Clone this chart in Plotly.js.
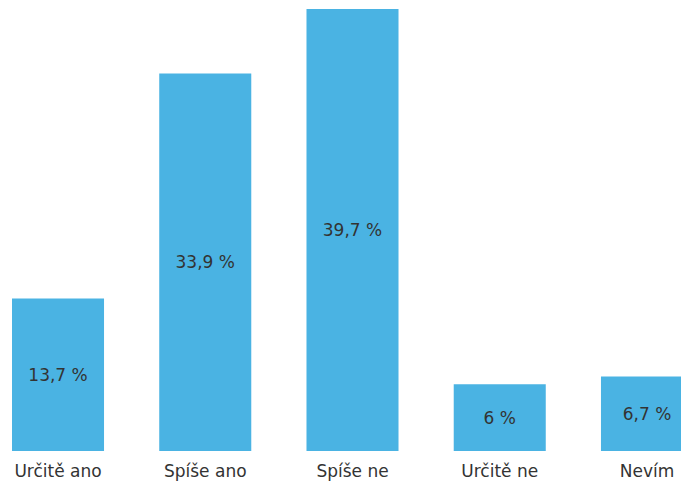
<!DOCTYPE html>
<html>
<head>
<meta charset="utf-8">
<script src="https://cdn.plot.ly/plotly-3.0.1.min.js"></script>
<style>
  html, body { margin: 0; padding: 0; background: #fff; }
  #chart { width: 683px; height: 482px; }
</style>
</head>
<body>
<div id="chart"></div>
<script>
// Survey answers and their shares (percent)
const categories = ["Určitě ano", "Spíše ano", "Spíše ne", "Určitě ne", "Nevím"];
const shares = [13.7, 33.9, 39.7, 6, 6.7];

const labels = shares.map(v => String(v).replace(".", ",") + " %");

const trace = {
  type: "bar",
  x: categories,
  y: shares,
  text: labels,
  textposition: "inside",
  insidetextanchor: "middle",
  textangle: 0,
  texttemplate: "%{text}",
  hoverinfo: "skip",
  marker: { color: "#4ab3e3", line: { width: 0 } },
  insidetextfont: { family: "DejaVu Sans", size: 17, color: "#333333" }
};

const layout = {
  width: 683,
  height: 482,
  margin: { l: 0, r: 2, t: 9, b: 31 },
  paper_bgcolor: "#ffffff",
  plot_bgcolor: "#ffffff",
  showlegend: false,
  bargap: 0.375,
  xaxis: {
    type: "category",
    range: [-0.394, 4.231],
    showgrid: false,
    zeroline: false,
    showline: false,
    ticks: "",
    ticklabelstandoff: 8,
    tickfont: { family: "DejaVu Sans", size: 17, color: "#333333" },
    fixedrange: true
  },
  yaxis: {
    range: [0, 39.7],
    visible: false,
    showgrid: false,
    zeroline: false,
    fixedrange: true
  }
};

Plotly.newPlot("chart", [trace], layout, { displayModeBar: false, staticPlot: true });
</script>
</body>
</html>
